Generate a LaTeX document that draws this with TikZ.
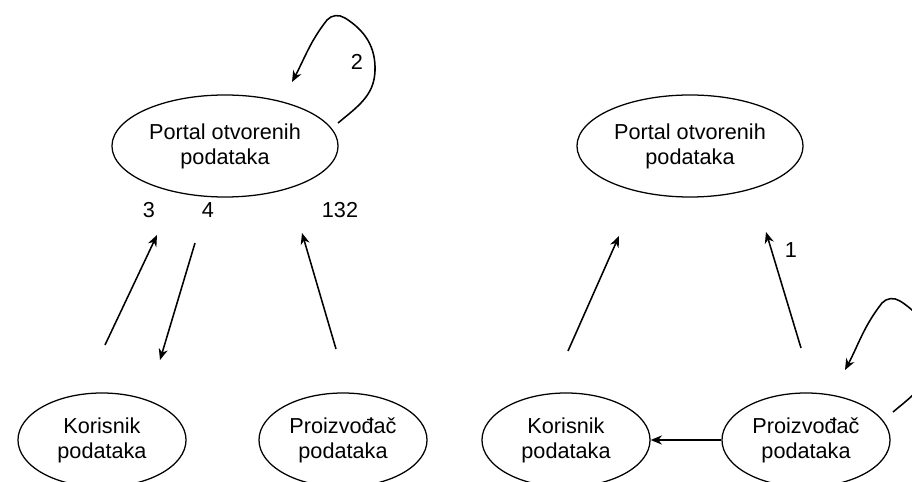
\documentclass[tikz,border=0pt]{standalone}
\usepackage{fontspec}
\setmainfont{Liberation Sans}
\usetikzlibrary{positioning,calc,shapes.geometric,arrows.meta}

\tikzset{
	portalbox/.style={draw=black,ellipse,line width=0.9pt,minimum width=5.65cm,minimum height=2.55cm,inner sep=0pt,align=center},
	actorbox/.style={draw=black,ellipse,line width=0.9pt,minimum width=4.2cm,minimum height=2.35cm,inner sep=0pt,align=center},
	flow/.style={-{Stealth[length=8pt,width=6.5pt,inset=2.5pt]},line width=1.1pt}
}

\begin{document}
\begin{tikzpicture}[x=0.025cm,y=0.025cm,font=\fontsize{15.4}{17.8}\selectfont]
	\useasboundingbox (0,0) rectangle (912,481);
	\clip (0,0) rectangle (912,481);
	% left part
	\node[portalbox] (portL) at (225,335) {Portal otvorenih\\podataka};
	\node[actorbox] (korL) at (102,41) {Korisnik\\podataka};
	\node[actorbox] (proL) at (343,41) {Proizvođač\\podataka};
	\node[shift={(-76,-64)}] (l3) at (portL) {3};
	\node[shift={(-17,-64)}] (l4) at (portL) {4};
	\node[shift={(115,-64)}] (l132) at (portL) {132};
	\node[shift={(132,84)}] (l2) at (portL) {2};
	
	\coordinate (a3s) at (105,136);
	\coordinate (a3e) at (157,246);
	\coordinate (a4s) at (195,238);
	\coordinate (a4e) at (160,121);
	\coordinate (a132s) at (336,132);
	\coordinate (a132e) at (302,248);
	\coordinate (loopLs) at (338,358);
	\coordinate (loopLr) at (375,410);
	\coordinate (loopLa) at (345,463);
	\coordinate (loopLb) at (327,461);
	\coordinate (loopLe) at (292,399);
	
	\draw[flow] (a3s)--(a3e);
	\draw[flow] (a4s)--(a4e);
	\draw[flow] (a132s)--(a132e);
	\draw[flow] (loopLs) to[out=40,in=-92] (loopLr) to[out=88,in=-32] (loopLa)
		to[out=148,in=48] (loopLb) to[out=232,in=62] (loopLe);
	
	% right part
	\node[portalbox] (portR) at (690,335) {Portal otvorenih\\podataka};
	\node[actorbox] (korR) at (566,41) {Korisnik\\podataka};
	\node[actorbox] (proR) at (806,41) {Proizvođač\\podataka};
	\node[shift={(101,-104)}] (l1) at (portR) {1};
	
	\coordinate (b1s) at (568,130);
	\coordinate (b1e) at (619,245);
	\coordinate (b2s) at (801,133);
	\coordinate (b2e) at (766,249);
	\coordinate (loopRs) at (893,69);
	\coordinate (loopRr) at (931,123);
	\coordinate (loopRa) at (900,180);
	\coordinate (loopRb) at (882,178);
	\coordinate (loopRe) at (845,111);
	
	\draw[flow] (b1s)--(b1e);
	\draw[flow] (b2s)--(b2e);
	\draw[flow] (proR.west)--(korR.east);
	\draw[flow] (loopRs) to[out=40,in=-92] (loopRr) to[out=88,in=-32] (loopRa)
		to[out=148,in=48] (loopRb) to[out=232,in=62] (loopRe);
\end{tikzpicture}
\end{document}
